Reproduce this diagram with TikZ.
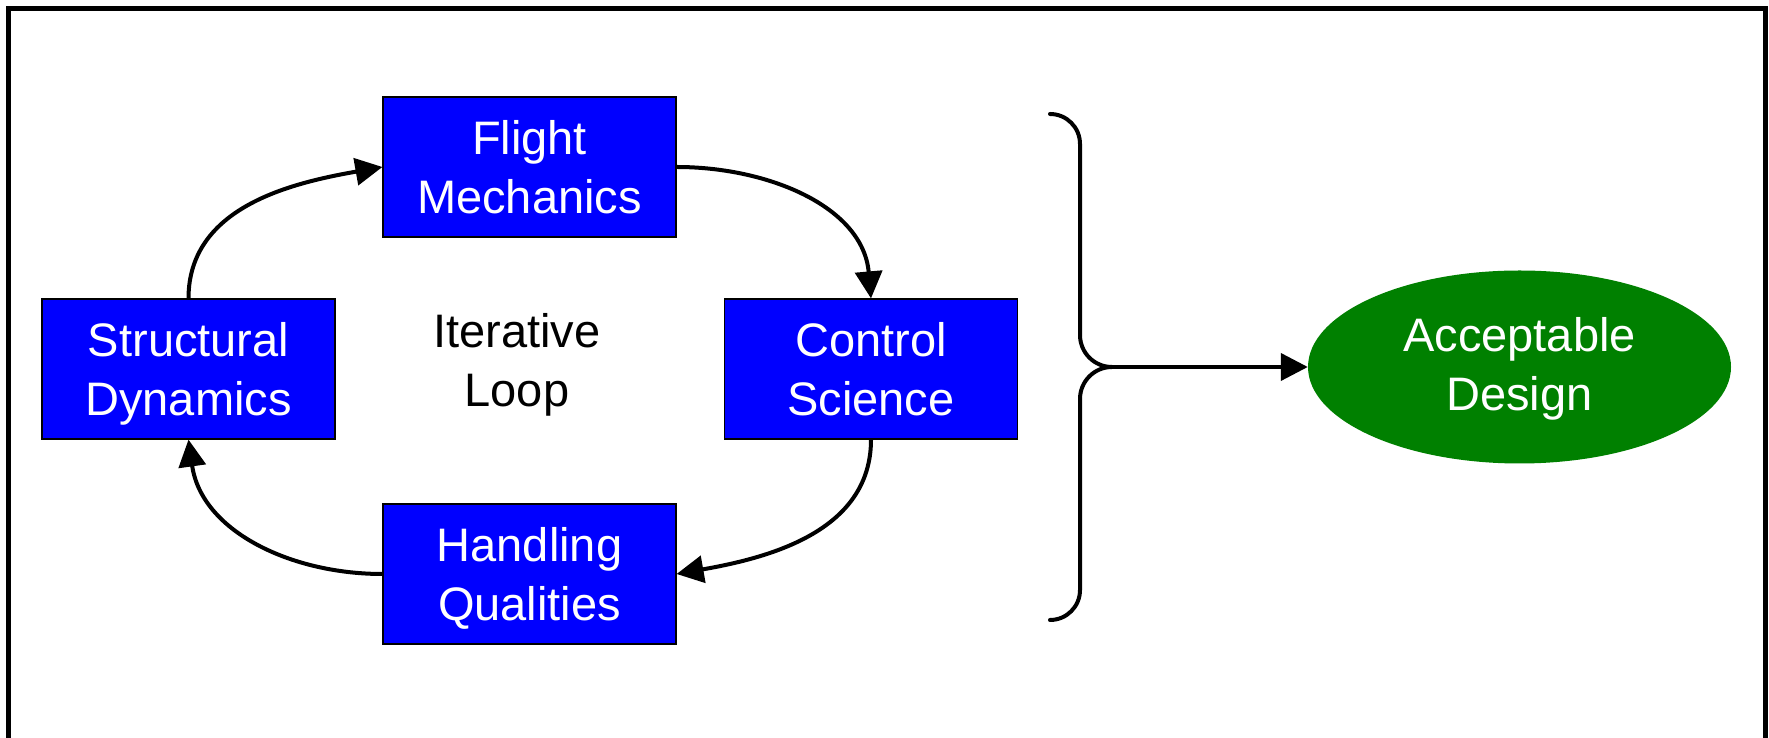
\documentclass[tikz,border=0pt]{standalone}
\usepackage{fontspec}
\setmainfont{Liberation Sans}
\usetikzlibrary{arrows.meta,shapes.geometric}
\definecolor{boxblue}{RGB}{0,0,255}
\definecolor{okgreen}{RGB}{0,128,0}
\newcommand{\diagfont}{\fontsize{47}{59}\selectfont}
\begin{document}
\begin{tikzpicture}[x=1pt,y=1pt,
  twoline/.style={align=center, font=\diagfont, text height=92.6pt, text depth=0pt},
  box/.style={twoline, draw=black, line width=1.2pt, fill=boxblue, text=white,
    minimum width=293pt, minimum height=140pt, inner sep=0pt},
  conn/.style={line width=4pt, -{Triangle[length=27pt,width=27pt]}},
  brace/.style={line width=4pt, line cap=round}]
\useasboundingbox (0,0) rectangle (1769,738);
\fill[white] (0,0) rectangle (1769,738);
\draw[line width=5pt] (8,729.5) rectangle (1765,-10);

\node[box] (FM) at (529.5,571) {Flight\\Mechanics};
\node[box] (SD) at (188.5,369) {Structural\\Dynamics};
\node[box] (CS) at (871,369) {Control\\Science};
\node[box] (HQ) at (529.5,164) {Handling\\Qualities};
\node[twoline, text=black, inner sep=0pt] (IL) at (517,378) {Iterative\\Loop};
\node[ellipse, fill=okgreen, text=white, minimum width=423pt, minimum height=193pt,
  inner sep=0pt, twoline, text height=86.6pt] (AD) at (1519.5,371) {Acceptable\\Design};

\draw[conn] (SD.north) to[out=90,in=190] (FM.west);
\draw[conn] (FM.east) to[out=0,in=95] (CS.north);
\draw[conn] (CS.south) to[out=-90,in=10] (HQ.east);
\draw[conn] (HQ.west) to[out=180,in=-82] (SD.south);

\coordinate (bt) at (1050,624);
\coordinate (bb) at (1050,118);
\coordinate (cusp) at (1112,371);
\draw[brace] (bt) to[out=0,in=90] (1080,594) -- (1080,403) to[out=-90,in=180] (cusp)
  to[out=180,in=90] (1080,339) -- (1080,148) to[out=-90,in=0] (bb);
\draw[conn] (cusp) -- (AD.west);
\end{tikzpicture}
\end{document}
